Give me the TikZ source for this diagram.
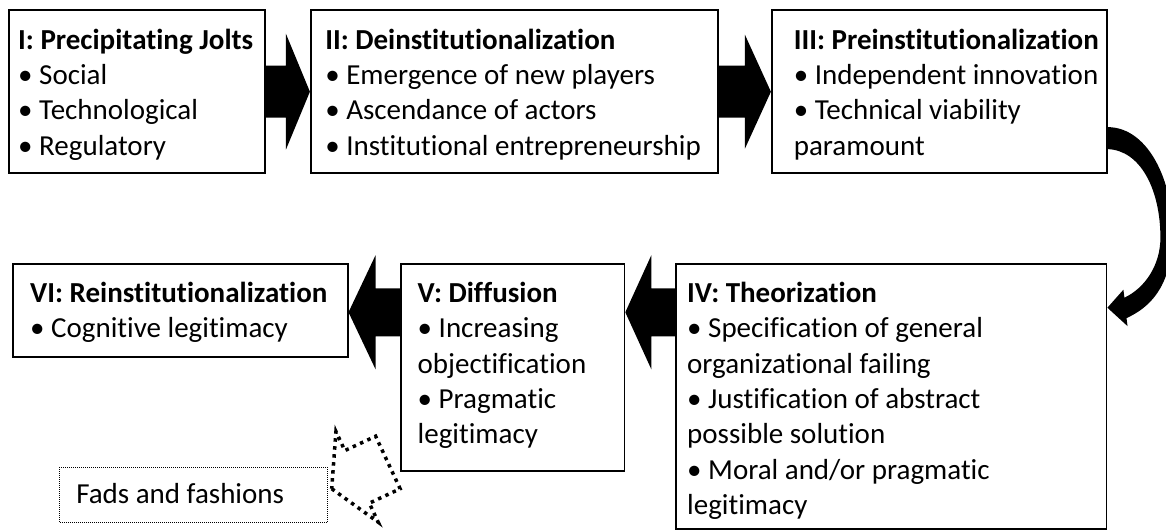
\documentclass[tikz,border=0pt]{standalone}
\usepackage{fontspec}
\setmainfont{Carlito}[Ligatures=CommonOff]
\usepackage{tikz}
\usetikzlibrary{positioning,calc}
\tikzstyle{box}=[rectangle,draw=black,line width=1.8pt,inner sep=0pt,anchor=north west,align=left,text height=39pt,font=\fontsize{29}{35.3}\selectfont]
\tikzstyle{styTop}=[box,text depth=124pt]
\tikzstyle{styFad}=[box,line width=1pt,dash pattern=on 1pt off 1pt,text height=36.3pt,text depth=18.7pt]
\tikzstyle{myarrow}=[fill=black]
\tikzstyle{dotarrow}=[draw=black,line width=3.5pt,dash pattern=on 3.5pt off 4.5pt]
\tikzset{lpad/.style={execute at begin node={\leftskip=#1\spaceskip=0pt\xspaceskip=0pt\relax}}}

\begin{document}
\begin{tikzpicture}[x=1pt,y=1pt]
\useasboundingbox (0,0) rectangle (1166,-531);

\node[styTop,lpad=9pt,text width=256pt] (boxI) at (8.3,-9.3)
  {\textbf{I: Precipitating Jolts}\\• Social\\• Technological\\• Regulatory};
\node[styTop,lpad=14.5pt,text width=407.4pt,right=43.8pt of boxI] (boxII)
  {\textbf{II: Deinstitutionalization}\\• Emergence of new players\\• Ascendance of actors\\• Institutional entrepreneurship};
\node[styTop,lpad=22pt,text width=334.8pt,right=51.8pt of boxII] (boxIII)
  {\textbf{III: Preinstitutionalization}\\• Independent innovation\\• Technical viability\\paramount};

\node[box,lpad=17.6pt,text width=335pt,text depth=54.3pt] (boxVI) at (11.7,-262.7)
  {\textbf{VI: Reinstitutionalization}\\• Cognitive legitimacy};
\node[box,lpad=16.7pt,text width=223.4pt,text depth=168.3pt,right=51.6pt of boxVI.north east,anchor=north west] (boxV)
  {\textbf{V: Diffusion}\\• Increasing\\objectification\\• Pragmatic\\legitimacy};
\node[box,lpad=11pt,text width=430.3pt,text depth=226.3pt,right=50pt of boxV.north east,anchor=north west] (boxIV)
  {\textbf{IV: Theorization}\\• Specification of general\\organizational failing\\• Justification of abstract\\possible solution\\• Moral and/or pragmatic\\legitimacy};

\node[styFad,lpad=16.5pt,text width=267.4pt] (fads) at (59.3,-466.7) {Fads and fashions};

\fill[myarrow] ($(boxI.east)+(0,26)$) -- ($(boxII.west)+(-24,26)$) -- ++(0,32) -- (boxII.west)
  -- ++(-24,-58) -- ++(0,32) -- ($(boxI.east)+(0,-26)$) -- cycle;
\fill[myarrow] ($(boxII.east)+(0,26)$) -- ($(boxIII.west)+(-26,26)$) -- ++(0,31) -- (boxIII.west)
  -- ++(-26,-57) -- ++(0,31) -- ($(boxII.east)+(0,-26)$) -- cycle;

\coordinate (vTip) at ($(boxVI.east)+(0,-2)$);
\coordinate (vTail) at (boxV.west |- vTip);
\coordinate (ivTip) at (boxV.east |- vTip);
\coordinate (ivTail) at (boxIV.west |- vTip);
\fill[myarrow] ($(vTail)+(0,24)$) -- ($(vTip)+(27,24)$) -- ++(0,33) -- (vTip)
  -- ++(27,-57) -- ++(0,33) -- ($(vTail)+(0,-24)$) -- cycle;
\fill[myarrow] ($(ivTail)+(0,24)$) -- ($(ivTip)+(26,24)$) -- ++(0,33) -- (ivTip)
  -- ++(26,-57) -- ++(0,33) -- ($(ivTail)+(0,-24)$) -- cycle;

\fill[myarrow] ($(boxIII.south east)+(0,47)$) .. controls +(43,0) and +(3,55) .. ++(65,-115)
  .. controls +(-3,-45) and +(24,11) .. ++(-46,-76) -- ++(1,-8)
  -- ($(boxIV.north east)+(0,-45)$) -- ++(16,18) -- ++(1,-8)
  .. controls +(21,10) and +(0,-27) .. ++(36,60)
  .. controls +(0,48) and +(33,-1) .. ($(boxIII.south east)+(0,25)$) -- cycle;

\begin{scope}[shift={($(fads.east)+(4,6)$)},rotate=205]
\draw[dotarrow] (0,0) -- (-28,50) -- (-28,29) -- (-62,29) -- (-62,-29) -- (-28,-29) -- (-28,-50) -- cycle;
\end{scope}

\end{tikzpicture}
\end{document}
